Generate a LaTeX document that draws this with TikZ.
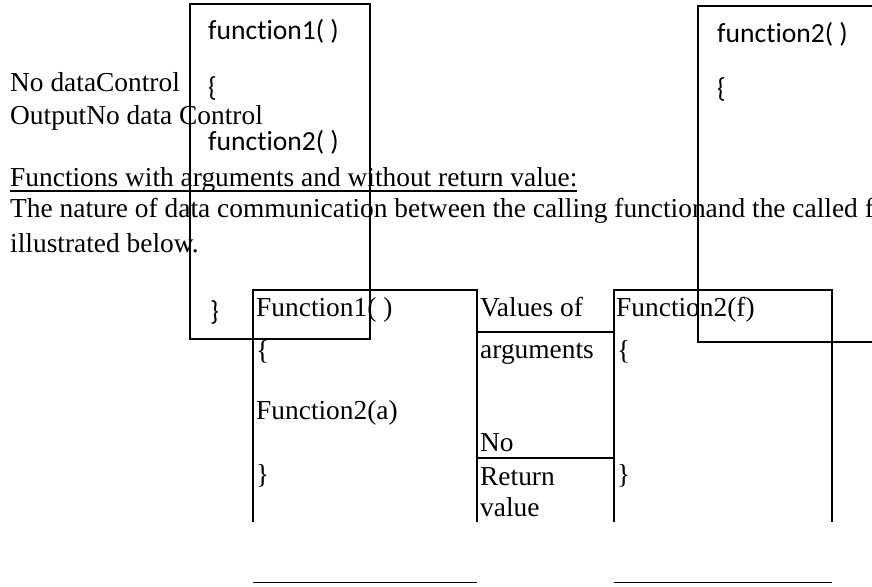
\documentclass[tikz,border=0pt]{standalone}
\usepackage{fontspec}
\setmainfont{Liberation Serif}
\newfontfamily\calibrifont[Ligatures={NoCommon}]{Carlito}
\usepackage{tikz}
\usetikzlibrary{positioning}

\newcommand{\bodysize}{\fontsize{27.4}{32}\selectfont}
\newcommand{\codesize}{\fontsize{27.6}{32}\selectfont}

\begin{document}
\begin{tikzpicture}[x=1pt, y=-1pt,
    txt/.style={font=\bodysize, anchor=base west, inner sep=0pt},
    code/.style={font=\calibrifont\codesize, anchor=base west, inner sep=0pt},
    frame/.style={draw, line width=1.3pt}]
    \useasboundingbox (0,0) rectangle (872,586);
    \clip (0,0) rectangle (872,586);

    % Running text
    \node[txt] (nodata) at (10,92) {No dataControl};
    \node[txt] (output) at (10,124) {OutputNo data Control};
    \node[txt] (heading) at (10,186) {Functions with arguments and without return value:};
    \draw[line width=2.6pt] (10,191) -- (577,191);
    \node[txt] (nature) at (10,217) {The nature of data communication between the calling functionand the called f};
    \node[txt] (below) at (10,252) {illustrated below.};

    % First code box
    \draw[frame] (190,4) rectangle (370,339);
    \node[code] (fone) at (208,40) {function1( )};
    \node[code] (fopen) at (208,96) {\{};
    \node[code] (fcall) at (208,150) {function2( )};
    \node[code] (fclose) at (210,320) {\}};

    % Second code box
    \draw[frame] (880,6) -- (698,6) -- (698,342) -- (880,342);
    \node[code] (ftwo) at (717,42) {function2( )};
    \node[code] (ftwoopen) at (717,97) {\{};

    % Table
    \coordinate (ta) at (253,290);
    \coordinate (tb) at (477,290);
    \coordinate (tc) at (614,290);
    \coordinate (td) at (832,290);
    \draw[frame] (ta |- 0,522) -- (ta) -- (tb) -- (tb |- 0,522);
    \draw[frame] (tc |- 0,522) -- (tc) -- (td) -- (td |- 0,522);
    \draw[frame] (tb |- 0,332) -- (tc |- 0,332);
    \draw[frame] (tb |- 0,458) -- (tc |- 0,458);
    \draw[line width=1pt] (ta |- 0,582) -- (tb |- 0,582);
    \draw[line width=1pt] (tc |- 0,582) -- (td |- 0,582);

    \node[txt] (callerhead) at (256,316) {Function1( )};
    \node[txt] (callerop) at (256,359) {\{};
    \node[txt] (callercall) at (256,419) {Function2(a)};
    \node[txt] (callercl) at (256,483) {\}};
    \node[txt] (valuesof) at (480,316) {Values of};
    \node[txt] (args) at (480,358) {arguments};
    \node[txt] (no) at (480,451) {No};
    \node[txt] (ret) at (480,485) {Return};
    \node[txt] (val) at (480,516) {value};
    \node[txt] (calledhead) at (616,316) {Function2(f)};
    \node[txt] (calledop) at (617,359) {\{};
    \node[txt] (calledcl) at (617,483) {\}};
\end{tikzpicture}
\end{document}
